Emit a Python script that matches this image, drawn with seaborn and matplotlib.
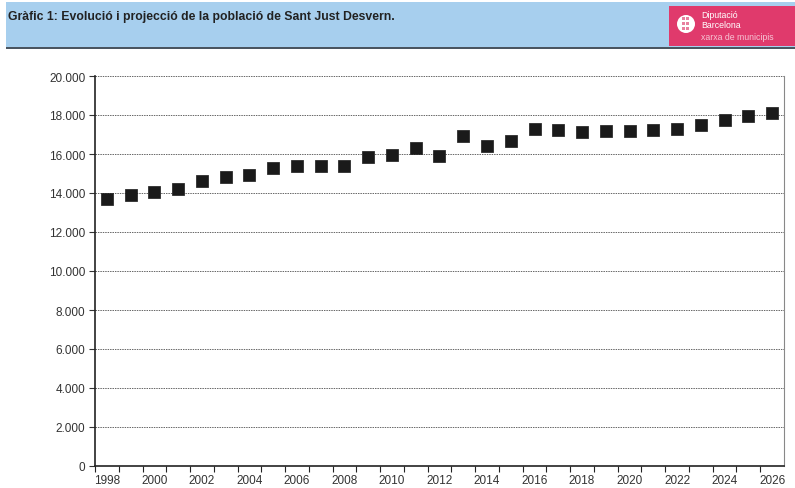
import matplotlib
matplotlib.use("Agg")
import matplotlib.pyplot as plt
import matplotlib.ticker as mticker
from matplotlib.patches import Rectangle, Ellipse
import seaborn as sns
import pandas as pd

# Data
years = list(range(1998, 2027))
population = [13700, 13900, 14050, 14200, 14600, 14820, 14920, 15280, 15380, 15380,
              15370, 15850, 15950, 16290, 15910, 16900, 16390, 16670, 17260, 17230,
              17110, 17160, 17160, 17230, 17260, 17500, 17740, 17930, 18120]
y_ticks = list(range(0, 20001, 2000))
title = "Gràfic 1: Evolució i projecció de la població de Sant Just Desvern."

df = pd.DataFrame({"year": years, "population": population})

sns.set_style("white")
plt.rcParams["font.family"] = ["Liberation Sans", "DejaVu Sans"]

fig = plt.figure(figsize=(7.95, 4.89), dpi=100)


def px(x, y, w, h):
    # pixel box (top-left origin) -> figure fraction
    return (x / 795, 1 - (y + h) / 489), w / 795, h / 489


# -------------------------------
# Header band
# -------------------------------
xy, w, h = px(6, 3, 789, 45)
fig.patches.append(Rectangle(xy, w, h, transform=fig.transFigure,
                             facecolor="#a7cfee", edgecolor="none", zorder=0))
xy, w, h = px(6, 48, 789, 2)
fig.patches.append(Rectangle(xy, w, h, transform=fig.transFigure,
                             facecolor="#4a5560", edgecolor="none", zorder=1))
fig.text(8 / 795, 1 - 17 / 489, title, fontsize=8.8, fontweight="bold",
         color="#222222", va="center", ha="left")

# logo box
xy, w, h = px(669, 7, 126, 40)
fig.patches.append(Rectangle(xy, w, h, transform=fig.transFigure,
                             facecolor="#e03a6c", edgecolor="none", zorder=2))
fig.patches.append(Ellipse((686 / 795, 1 - 25 / 489), 18 / 795, 18 / 489,
                           transform=fig.transFigure, facecolor="white",
                           edgecolor="none", zorder=3))
for cx in (682, 686):
    for cy in (18, 23, 28):
        xy, w, h = px(cx, cy, 3, 3)
        fig.patches.append(Rectangle(xy, w, h, transform=fig.transFigure,
                                     facecolor="#e8809f", edgecolor="none",
                                     zorder=4))
fig.text(701 / 795, 1 - 15 / 489, "Diputació", fontsize=6.3, color="white",
         va="center", ha="left")
fig.text(701 / 795, 1 - 26 / 489, "Barcelona", fontsize=6.3, color="white",
         va="center", ha="left")
fig.text(701 / 795, 1 - 37 / 489, "xarxa de municipis", fontsize=6.3,
         color="#f6c4d4", va="center", ha="left")

# -------------------------------
# Scatter of population
# -------------------------------
ax = fig.add_axes([95 / 795, 22 / 489, 689 / 795, 390 / 489])
sns.scatterplot(data=df, x="year", y="population", marker="s", s=72,
                color="#1a1a1a", edgecolor="#1a1a1a", linewidth=0.5, ax=ax,
                zorder=3, legend=False)

ax.set_xlim(years[0] - 0.5, years[-1] + 0.5)
ax.set_ylim(0, 20000)
ax.set_yticks(y_ticks)
ax.yaxis.set_major_formatter(mticker.FuncFormatter(
    lambda v, p: f"{int(v):,}".replace(",", ".")))
ax.set_xticks(years[::2])
ax.set_xticks([y + 0.5 for y in years[:-1]] + [years[0] - 0.5], minor=True)
ax.tick_params(axis="x", which="major", length=0, labelsize=8.5, pad=6,
               colors="#333333")
ax.tick_params(axis="x", which="minor", length=4, width=0.8, direction="out",
               color="#222222")
ax.tick_params(axis="y", length=4, width=0.8, direction="out", labelsize=8.5,
               colors="#333333", pad=3)
ax.tick_params(axis="x", bottom=True, which="both")
ax.tick_params(axis="y", left=True)

ax.grid(axis="y", linestyle=(0, (1.5, 1)), color="#666666", linewidth=0.7)
ax.set_axisbelow(True)
ax.set_xlabel("")
ax.set_ylabel("")

for side in ["left", "bottom"]:
    ax.spines[side].set_color("#222222")
    ax.spines[side].set_linewidth(1.2)
ax.spines["right"].set_color("#888888")
ax.spines["right"].set_linewidth(0.8)
ax.spines["top"].set_visible(False)

plt.savefig("out.png", dpi=100)
